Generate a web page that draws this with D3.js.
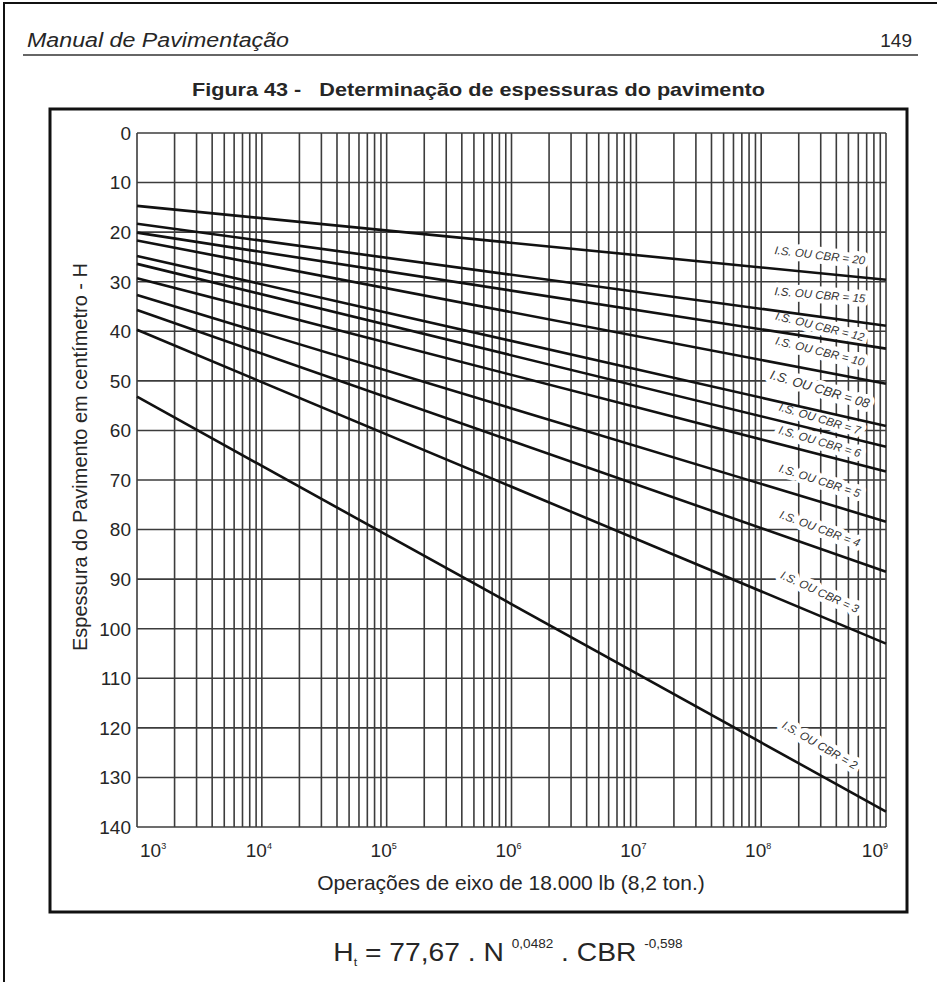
<!DOCTYPE html>
<html>
<head>
<meta charset="utf-8">
<script src="https://cdn.jsdelivr.net/npm/d3@7"></script>
<style>
  body { margin: 0; background: #fff; }
  svg text { font-family: "Liberation Sans", Arial, sans-serif; fill: #262626; }
</style>
</head>
<body>
<div id="chart"></div>
<script>
// valores (H em cm nas extremidades N = 10^3 e N = 10^9)
var cbrLabels = ["20", "15", "12", "10", "08", "7", "6", "5", "4", "3", "2"];
var hAtNmin = [14.7, 18.3, 20.1, 21.7, 24.8, 26.4, 29.3, 32.7, 35.7, 39.7, 53.2];
var hAtNmax = [29.6, 38.9, 43.5, 50.6, 59.1, 63.3, 68.3, 78.4, 88.5, 103, 136.9];
var nDomain = [1e3, 1e9];
var hTicks = [0, 10, 20, 30, 40, 50, 60, 70, 80, 90, 100, 110, 120, 130, 140];
var decadeExps = [3, 4, 5, 6, 7, 8, 9];

window.addEventListener('DOMContentLoaded', function () {
  drawPage();
});

function drawPage() {
  var w = 937, h = 982;
  var plot = { left: 137, right: 886, top: 133, bottom: 827 };

  var svg = d3.select("#chart")
      .append("svg")
      .attr("width", w)
      .attr("height", h);

  // bordas da pagina (so topo e esquerda aparecem)
  svg.append("path")
      .attr("d", "M4,982 V3 H937")
      .attr("fill", "none")
      .attr("stroke", "#111")
      .attr("stroke-width", 2);

  // cabecalho
  svg.append("text")
      .attr("x", 27).attr("y", 47)
      .attr("textLength", 262)
      .attr("lengthAdjust", "spacingAndGlyphs")
      .style("font-style", "italic")
      .style("font-size", "20px")
      .text("Manual de Pavimentação");

  svg.append("text")
      .attr("x", 912).attr("y", 47)
      .attr("text-anchor", "end")
      .style("font-size", "19px")
      .text("149");

  svg.append("line")
      .attr("x1", 23).attr("x2", 918)
      .attr("y1", 55).attr("y2", 55)
      .attr("stroke", "#333")
      .attr("stroke-width", 1.5);

  svg.append("text")
      .attr("x", 192).attr("y", 96)
      .attr("textLength", 573)
      .attr("lengthAdjust", "spacingAndGlyphs")
      .style("font-size", "19px")
      .style("font-weight", "bold")
      .attr("xml:space", "preserve")
      .text("Figura 43 -   Determinação de espessuras do pavimento");

  // moldura da figura
  svg.append("rect")
      .attr("x", 50).attr("y", 109)
      .attr("width", 857).attr("height", 803)
      .attr("fill", "none")
      .attr("stroke", "#111")
      .attr("stroke-width", 3);

  var x = d3.scaleLog()
      .domain(nDomain)
      .range([plot.left, plot.right]);

  var y = d3.scaleLinear()
      .domain([0, 140])
      .range([plot.top, plot.bottom]);

  var grid = svg.append("g").attr("class", "grid");

  grid.selectAll("line.v")
      .data(x.ticks())
      .enter().append("line")
      .attr("class", "v")
      .attr("x1", function (d) { return x(d); })
      .attr("x2", function (d) { return x(d); })
      .attr("y1", plot.top)
      .attr("y2", plot.bottom)
      .attr("stroke", "#3c3c3c")
      .attr("stroke-width", 1.6);

  grid.selectAll("line.h")
      .data(hTicks)
      .enter().append("line")
      .attr("class", "h")
      .attr("x1", plot.left)
      .attr("x2", plot.right)
      .attr("y1", function (d) { return y(d); })
      .attr("y2", function (d) { return y(d); })
      .attr("stroke", "#3c3c3c")
      .attr("stroke-width", 1.6);

  // rotulos do eixo y
  svg.append("g")
      .selectAll("text")
      .data(hTicks)
      .enter().append("text")
      .attr("x", plot.left - 6)
      .attr("y", function (d) { return y(d); })
      .attr("dy", "0.36em")
      .attr("text-anchor", "end")
      .style("font-size", "19px")
      .text(function (d) { return d; });

  // rotulos do eixo x (potencias de 10)
  var xl = svg.append("g")
      .selectAll("text")
      .data(decadeExps)
      .enter().append("text")
      .attr("x", function (d, i) {
        if (i == 0) return plot.left + 3;
        if (i == decadeExps.length - 1) return plot.right + 2;
        return x(Math.pow(10, d)) - 3;
      })
      .attr("y", 857)
      .attr("text-anchor", function (d, i) {
        if (i == 0) return "start";
        if (i == decadeExps.length - 1) return "end";
        return "middle";
      })
      .style("font-size", "19px");
  xl.append("tspan").text("10");
  xl.append("tspan")
      .attr("dy", -8)
      .style("font-size", "9px")
      .text(function (d) { return d; });

  svg.append("text")
      .attr("x", 511).attr("y", 890)
      .attr("text-anchor", "middle")
      .style("font-size", "21px")
      .text("Operações de eixo de 18.000 lb (8,2 ton.)");

  svg.append("text")
      .attr("transform", "translate(87,457) rotate(-90)")
      .attr("text-anchor", "middle")
      .style("font-size", "20px")
      .text("Espessura do Pavimento em centímetro - H");

  // retas de CBR
  var series = cbrLabels.map(function (c, i) {
    return { cbr: c, pts: [[nDomain[0], hAtNmin[i]], [nDomain[1], hAtNmax[i]]] };
  });

  var line = d3.line()
      .x(function (d) { return x(d[0]); })
      .y(function (d) { return y(d[1]); });

  // posicao dos rotulos sobre as retas
  var labelN = Math.pow(10, 8.47);
  var labelLift = [18, 22, 12, 20, 22, 12, 13, 21, 20, 24, 30];
  var labelTilt = [1, -3, 5, 3, 4, 3, 2, 1, 1, 2, 1];
  function labelPos(d, i) {
    var x0 = x(d.pts[0][0]), y0 = y(d.pts[0][1]);
    var x1 = x(d.pts[1][0]), y1 = y(d.pts[1][1]);
    var lx = x(labelN);
    var ly = y0 + (lx - x0) / (x1 - x0) * (y1 - y0) - labelLift[i];
    var ang = Math.atan2(y1 - y0, x1 - x0) * 180 / Math.PI + labelTilt[i];
    return "translate(" + lx + "," + ly + ") rotate(" + ang + ")";
  }
  function labelText(d) { return "I.S. OU CBR = " + d.cbr; }
  function labelSize(d) { return d.cbr == "08" ? "13px" : "11.5px"; }

  // halo branco atras dos rotulos
  svg.append("g")
      .selectAll("text")
      .data(series)
      .enter().append("text")
      .attr("transform", labelPos)
      .attr("dy", "0.35em")
      .attr("text-anchor", "middle")
      .style("font-style", "italic")
      .style("font-size", labelSize)
      .style("fill", "#fff")
      .style("stroke", "#fff")
      .style("stroke-width", 9)
      .style("stroke-linejoin", "round")
      .text(labelText);

  svg.append("g")
      .selectAll("path")
      .data(series)
      .enter().append("path")
      .attr("d", function (d) { return line(d.pts); })
      .attr("fill", "none")
      .attr("stroke", "#111")
      .attr("stroke-width", 2.6);

  svg.append("g")
      .selectAll("text")
      .data(series)
      .enter().append("text")
      .attr("transform", labelPos)
      .attr("dy", "0.35em")
      .attr("text-anchor", "middle")
      .style("font-style", "italic")
      .style("font-size", labelSize)
      .style("fill", "#333")
      .text(labelText);

  // formula
  var f = svg.append("g")
      .attr("transform", "translate(508,961) scale(1.13,1)")
      .append("text")
      .attr("text-anchor", "middle")
      .attr("xml:space", "preserve")
      .style("font-size", "25px");
  f.append("tspan").text("H");
  f.append("tspan").attr("dy", 5).style("font-size", "11px").text("t");
  f.append("tspan").attr("dy", -5).text(" = 77,67 . N ");
  f.append("tspan").attr("dy", -13).style("font-size", "12px").text("0,0482");
  f.append("tspan").attr("dy", 13).text(" . CBR ");
  f.append("tspan").attr("dy", -13).style("font-size", "12px").text("-0,598");
}
</script>
</body>
</html>
